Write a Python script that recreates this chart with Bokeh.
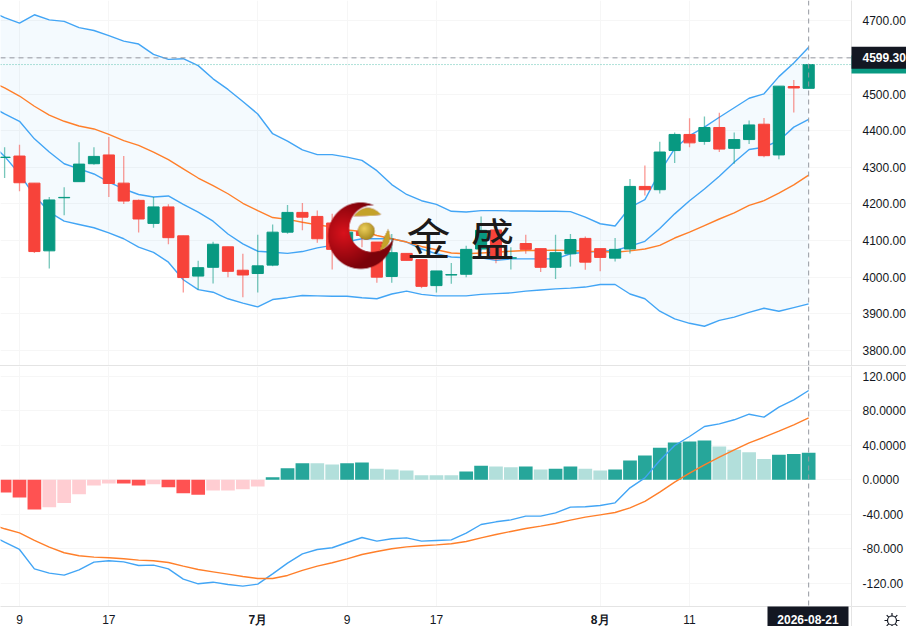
import numpy as np
from bokeh.embed import file_html
from bokeh.layouts import column
from bokeh.models import (ColumnDataSource, Div, FixedTicker, Label,
                          NumeralTickFormatter, Range1d, Span)
from bokeh.plotting import figure
from bokeh.resources import INLINE

# ---------- data ----------
candle_idx = list(range(-1, 54))
opens  = [4327,4331,4257,4072,4217,4261,4310,4334,4257,4210,4147,4192,4113,4003,4027,4083,4019,4010,4033,4123,4177,4166,4148,4077,4125,4096,4002,4065,4048,3977,4006,4008,4077,4129,4052,4092,4078,4027,4064,4106,4078,4052,4077,4248,4239,4346,4390,4371,4409,4352,4376,4418,4334,4521,4516]
closes = [4328,4258,4070,4211,4218,4309,4330,4256,4208,4159,4192,4108,3999,4026,4090,4016,4006,4031,4123,4177,4164,4105,4076,4123,4114,4000,4067,4046,3975,4017,4007,4076,4128,4050,4053,4076,4027,4067,4103,4041,4054,4076,4248,4239,4342,4390,4367,4409,4350,4376,4416,4332,4522,4517,4581]
highs  = [4355,4362,4257,4219,4246,4369,4355,4383,4331,4212,4219,4199,4113,4045,4097,4083,4064,4116,4144,4197,4203,4182,4173,4137,4141,4096,4118,4065,4048,4017,4039,4086,4166,4137,4082,4116,4078,4116,4118,4111,4078,4107,4268,4305,4370,4395,4434,4439,4449,4395,4428,4435,4522,4539,4581]
lows   = [4271,4235,4066,4024,4169,4261,4307,4219,4200,4122,4135,4090,3958,3966,3983,4000,3945,3958,4030,4119,4128,4094,4021,4064,4082,3985,3985,4046,3970,3958,3982,4000,4073,4038,4021,4064,4014,3995,4029,4020,4016,4043,4065,4223,4229,4312,4355,4362,4342,4310,4364,4328,4322,4450,4516]

line_idx = list(range(-2, 54))
boll_upper = [4729,4709,4694,4717,4703,4699,4682,4674,4660,4645,4637,4609,4595,4597,4578,4542,4513,4480,4446,4392,4372,4348,4335,4335,4328,4319,4291,4253,4226,4209,4199,4180,4178,4182,4182,4181,4181,4180,4180,4179,4164,4146,4140,4191,4212,4287,4351,4387,4410,4437,4463,4489,4501,4548,4585,4628]
band_mid   = [4469,4446,4426,4378,4342,4310,4296,4282,4260,4241,4226,4219,4222,4199,4178,4153,4118,4091,4071,4068,4065,4070,4080,4087,4097,4105,4105,4105,4096,4077,4064,4055,4053,4053,4046,4050,4050,4050,4050,4064,4068,4071,4073,4085,4098,4133,4173,4209,4241,4276,4314,4349,4355,4373,4410,4431]
ma_line    = [4537,4517,4495,4467,4443,4426,4413,4405,4390,4373,4360,4342,4321,4296,4271,4250,4228,4202,4182,4163,4158,4150,4143,4137,4129,4125,4114,4105,4096,4084,4075,4066,4064,4066,4068,4071,4073,4073,4074,4073,4071,4070,4068,4072,4077,4087,4107,4123,4141,4159,4176,4196,4209,4230,4252,4279]
boll_lower = [4369,4330,4282,4223,4178,4153,4144,4135,4121,4105,4082,4068,4041,3993,3966,3959,3941,3929,3919,3939,3944,3950,3949,3948,3948,3944,3941,3954,3962,3953,3949,3949,3949,3953,3955,3957,3962,3965,3968,3970,3973,3980,3980,3954,3941,3907,3886,3874,3866,3882,3891,3904,3915,3907,3917,3927]

macd_line = [-63.4,-72.3,-80.8,-103.2,-108.2,-110.5,-104.4,-95.5,-93.9,-95.1,-99.3,-98.9,-103.2,-115.2,-120.6,-118.7,-121.4,-123.3,-121,-109,-96.6,-85.8,-80.8,-78.8,-72.7,-66.9,-71.1,-68.4,-67.3,-71.1,-70.3,-69.6,-61.8,-51.8,-48.7,-46.4,-42.1,-42.1,-38.3,-31.7,-31.3,-29.8,-26.7,-9.3,2.3,22.4,39.8,50.2,61.8,64.9,69.6,76.1,72.7,84.3,92.8,103.6]
signal_line = [-51,-56.8,-61.5,-70.3,-78.1,-84.6,-88.1,-89.7,-90.4,-91.6,-93.1,-93.9,-95.9,-100.1,-104,-106.7,-109.4,-112.1,-114.4,-114.4,-110.9,-105.1,-100.1,-96.2,-91.6,-86.6,-83.1,-80,-77.7,-76.5,-75.4,-74.2,-71.5,-67.3,-63.4,-59.9,-56.4,-53.7,-50.6,-46.8,-43.3,-40.6,-37.9,-32.5,-25.1,-14.3,-2.7,7.7,17.4,26.3,34.8,42.9,49.5,56.4,63.8,71.9]
hist_values = [-14.7,-20.5,-34.4,-31.7,-27,-16.6,-6.6,-4.3,-4.3,-6.6,-5,-8.5,-15.5,-17.4,-12.4,-12.4,-10.8,-7.7,3.1,13.5,19.3,19.3,17.8,19.3,20.1,12.8,12,10.8,5.4,5.4,5.4,9.7,16.2,15.5,14.7,15.5,12,12.8,15.5,12.8,10.8,12,22.4,28.2,37.1,43.3,44.4,45.6,38.6,34.8,32,24,29,29.8,31.3]
# 1 = strong colour, 0 = pale colour
hist_strong = [1,1,1,0,0,0,0,0,1,1,0,1,1,1,0,0,0,0,1,1,1,0,0,1,1,0,0,0,0,0,0,1,1,0,0,1,0,1,1,0,0,1,1,1,1,1,1,1,0,0,0,0,1,1,1]

time_ticks = [0, 6, 16, 22, 28, 39, 45]
time_labels = ["9", "17", "", "9", "17", "", "11"]
month_ticks = [16, 39]
month_labels = ["7月", "8月"]
price_ticks = [3800, 3900, 4000, 4100, 4200, 4300, 4400, 4500, 4600, 4700]
macd_ticks = [-120, -80, -40, 0, 40, 80, 120]
macd_tick_labels = ["-120.00", "-80.000", "-40.000", "0.0000", "40.0000", "80.0000", "120.000"]
crosshair_price = 4599.30
last_price = 4581
last_index = 53
crosshair_date = "2026-08-21"

# ---------- styling ----------
UP, DOWN = "#089981", "#f7433a"
UP_H, UP_L, DN_H, DN_L = "#26a69a", "#b2dfdb", "#ff5252", "#ffcdd2"
BLUE, ORANGE = "#42a5f5", "#ff7f2a"
GRID = "#f6f6f6"
EDGE = "#e4e4e4"
TXT = "#131722"
DARK = "#131722"
FONT = "Liberation Sans"

W, H = 906, 626
AXIS_X = 851
TOP_H = 365
LOW_H = 240
x_range = Range1d(-19 / 14.89, (851 - 19) / 14.89)

def style(p):
    p.outline_line_color = None
    p.min_border = 0
    p.min_border_left = p.min_border_top = p.min_border_bottom = p.min_border_right = 0
    p.xgrid.ticker = FixedTicker(ticks=time_ticks)
    p.xgrid.grid_line_color = GRID
    p.ygrid.grid_line_color = GRID
    ax = p.right[0]
    ax.major_label_text_font = FONT
    ax.major_label_text_font_size = "12px"
    ax.major_label_text_color = TXT
    ax.major_label_standoff = 11
    ax.major_tick_in = 0
    ax.major_tick_out = 0
    ax.minor_tick_in = 0
    ax.minor_tick_out = 0
    ax.major_tick_line_color = None
    ax.minor_tick_line_color = None
    ax.axis_line_color = EDGE

# ---------- price pane ----------
p1 = figure(width=W, height=TOP_H, frame_width=AXIS_X, frame_height=TOP_H,
            output_backend="svg", toolbar_location=None, x_range=x_range,
            y_range=Range1d(3758.7, 4756.0), x_axis_location=None,
            y_axis_location="right", tools="")
style(p1)
p1.yaxis.ticker = FixedTicker(ticks=price_ticks)
p1.yaxis.formatter = NumeralTickFormatter(format="0.00")
p1.ygrid.ticker = FixedTicker(ticks=price_ticks)

p1.varea(line_idx, boll_lower, boll_upper, fill_color="#2196f3", fill_alpha=0.05)
for series, col in ((boll_upper, BLUE), (band_mid, BLUE), (boll_lower, BLUE), (ma_line, ORANGE)):
    p1.line(line_idx, series, line_color=col, line_width=1.4)

colors = [UP if c >= o else DOWN for o, c in zip(opens, closes)]
src = ColumnDataSource(dict(x=candle_idx, o=opens, c=closes, h=highs, l=lows, col=colors))
p1.segment("x", "h", "x", "l", source=src, line_color="col", line_alpha=0.55, line_width=1.3)
p1.vbar("x", 0.75, "o", "c", source=src, fill_color="col", line_color="col", line_width=1)

p1.add_layout(Span(location=last_price, dimension="width", line_color="#5fc4b4",
                   line_dash="1 2", line_width=1))
p1.add_layout(Span(location=crosshair_price, dimension="width", line_color="#9598a1",
                   line_dash="5 4", line_width=1))
p1.add_layout(Span(location=last_index, dimension="height", line_color="#9598a1",
                   line_dash="5 4", line_width=1))

# watermark logo, built as a small picture and placed by pixel position
def sx(px):
    return (px - 19) / 14.89

def sy(py):
    return 4000 + (276.7 - py) / 0.366

def logo():
    x0, x1, y0, y1 = 325, 396, 200, 271
    n = 2
    ys, xs = np.mgrid[0:(y1 - y0) * n, 0:(x1 - x0) * n]
    xs = x0 + (xs + 0.5) / n
    ys = y0 + (ys + 0.5) / n
    rgba = np.zeros(xs.shape + (4,), float)

    def smooth(d):
        return np.clip(0.5 - d * n / 1.5, 0, 1)

    d_out = np.hypot(xs - 360, ys - 235.5) - 32.7
    d_in = 23 - np.hypot(xs - 371.5, ys - 228.5)
    cres = smooth(d_out) * smooth(d_in)
    t = np.clip(np.hypot(xs - 343, ys - 233) / 36, 0, 1)
    rgba[..., 0] = 218 - 95 * t
    rgba[..., 1] = 18 - 16 * t
    rgba[..., 2] = 28 - 18 * t
    rgba[..., 3] = cres

    def over(mask, r, g, b):
        a = mask[..., None]
        col = np.dstack([r * np.ones_like(xs), g * np.ones_like(xs), b * np.ones_like(xs)])
        rgba[..., :3] = rgba[..., :3] * (1 - a) + col * a
        rgba[..., 3] = np.maximum(rgba[..., 3], mask)

    def leaf(cx, cy, ang, a, b, curve):
        ca, sa = np.cos(ang), np.sin(ang)
        u = (xs - cx) * ca + (ys - cy) * sa
        v = -(xs - cx) * sa + (ys - cy) * ca
        v = v - curve * u * u
        lens = 1 - (u / a) ** 2
        return smooth((np.abs(v) / b - lens) * b) * (lens > 0)

    over(leaf(366.5, 212, -0.05, 14, 4.0, 0.018), 196, 162, 42)
    over(leaf(385.5, 240.5, -1.2, 11.5, 3.2, -0.018), 196, 162, 42)
    d_ball = np.hypot(xs - 365.5, ys - 231) - 8.5
    sh = np.clip(np.hypot(xs - 363.5, ys - 228.5) / 11, 0, 1)
    over(smooth(d_ball), 238 - 70 * sh, 208 - 70 * sh, 92 - 60 * sh)

    img = np.zeros(xs.shape, dtype=np.uint32)
    view = img.view(dtype=np.uint8).reshape(xs.shape + (4,))
    view[..., :3] = rgba[..., :3].astype(np.uint8)
    view[..., 3] = (rgba[..., 3] * 255).astype(np.uint8)
    return img[::-1], x0, x1, y0, y1

img, lx0, lx1, ly0, ly1 = logo()
p1.image_rgba(image=[img], x=sx(lx0), y=sy(ly1), dw=sx(lx1) - sx(lx0), dh=sy(ly0) - sy(ly1))
p1.add_layout(Label(x=sx(428), y=sy(237), text="金", text_font="Noto Sans CJK SC",
                    text_font_size="44px", text_color="#1c1a1a", text_align="center",
                    text_baseline="middle"))
p1.add_layout(Label(x=sx(492), y=sy(237), text="盛", text_font="Noto Sans CJK SC",
                    text_font_size="44px", text_color="#1c1a1a", text_align="center",
                    text_baseline="middle"))

# ---------- MACD pane ----------
p2 = figure(width=W, height=LOW_H + 20, frame_width=AXIS_X, frame_height=LOW_H,
            output_backend="svg", toolbar_location=None, x_range=x_range,
            y_range=Range1d(-146.9, 131.4), y_axis_location="right", tools="")
style(p2)
p2.yaxis.ticker = FixedTicker(ticks=macd_ticks)
p2.yaxis.major_label_overrides = dict(zip(macd_ticks, macd_tick_labels))
p2.ygrid.ticker = FixedTicker(ticks=macd_ticks)
bx = p2.xaxis[0]
bx.ticker = FixedTicker(ticks=time_ticks)
bx.major_label_overrides = dict(zip(time_ticks, time_labels))
bx.major_label_text_font = FONT
bx.major_label_text_font_size = "12px"
bx.major_label_text_color = TXT
bx.major_tick_in = 0
bx.major_tick_out = 0
bx.minor_tick_in = 0
bx.minor_tick_out = 0
bx.major_label_standoff = 8
bx.major_tick_line_color = None
bx.minor_tick_line_color = None
bx.axis_line_color = EDGE

hist_colors = [(UP_H if s else UP_L) if v >= 0 else (DN_H if s else DN_L)
               for v, s in zip(hist_values, hist_strong)]
p2.vbar(candle_idx, 0.92, 0, hist_values, fill_color=hist_colors, line_color=None)
p2.line(line_idx, macd_line, line_color=BLUE, line_width=1.4)
p2.line(line_idx, signal_line, line_color=ORANGE, line_width=1.4)
p2.add_layout(Span(location=last_index, dimension="height", line_color="#9598a1",
                   line_dash="5 4", line_width=1))

sep = Div(width=W, height=1, margin=0, styles={"background": EDGE})
page = column(p1, sep, p2, spacing=0, margin=0)

# ---------- transparent layer for what sits outside the panes ----------
over = figure(width=W, height=H, output_backend="svg", toolbar_location=None, tools="",
              x_range=Range1d(0, W), y_range=Range1d(H, 0),
              x_axis_location=None, y_axis_location=None,
              background_fill_color=None, border_fill_color=None,
              outline_line_color=None, min_border=0,
              styles={"position": "absolute", "top": "0px", "left": "0px", "pointer-events": "none"})
over.grid.visible = False

def price_y(v):
    return 276.7 - (v - 4000) * 0.366

last_y = price_y(last_price)
cross_y = price_y(crosshair_price)
over.quad(left=AXIS_X, right=W, top=last_y - 9, bottom=last_y + 9, fill_color=UP, line_color=None)
over.quad(left=AXIS_X, right=W, top=cross_y - 11, bottom=cross_y + 11, fill_color=DARK, line_color=None)
over.quad(left=767, right=848, top=606, bottom=626, fill_color=DARK, line_color=None)
over.segment([AXIS_X, AXIS_X], [606, 606], [W, AXIS_X], [606, 626], line_color=EDGE, line_width=1)
over.add_layout(Label(x=862, y=cross_y, text=f"{crosshair_price:.2f}", text_font=FONT,
                      text_font_size="12px", text_font_style="bold", text_color="#ffffff",
                      text_baseline="middle"))
over.add_layout(Label(x=807.5, y=619, text=crosshair_date, text_font=FONT, text_font_size="12px",
                      text_font_style="bold", text_color="#ffffff", text_align="center",
                      text_baseline="middle"))
for t, s in zip(month_ticks, month_labels):
    over.add_layout(Label(x=19 + t * 14.89, y=619, text=s, text_font=FONT, text_font_size="12px",
                          text_font_style="bold", text_color=TXT, text_align="center",
                          text_baseline="middle"))
# the settings icon in the corner
over.scatter([891.5], [620], marker="asterisk", size=15, line_color=TXT, line_width=1.2)
over.scatter([891.5], [620], marker="circle", size=9, fill_color="#ffffff", line_color=TXT,
             line_width=1.2)

open("out.html", "w").write(file_html([page, over], INLINE))
